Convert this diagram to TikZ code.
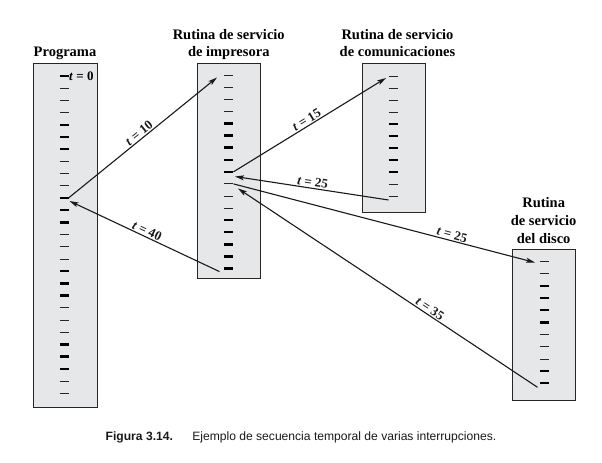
\documentclass[tikz,border=0pt]{standalone}
\usepackage{fontspec}
\setmainfont{Liberation Serif}
\newfontfamily\capfont{Liberation Sans}
\usetikzlibrary{arrows.meta}
\definecolor{boxgray}{RGB}{230,231,232}
\tikzset{
  boxst/.style={draw=black!85, fill=boxgray, line width=0.9bp, inner sep=0pt},
  ttl/.style={font=\bfseries\fontsize{14.5bp}{16.5bp}\selectfont, anchor=base, inner sep=0pt},
  thintick/.style={line width=0.8bp, black!85},
  thicktick/.style={line width=2.3bp, black},
  arr/.style={line width=1.1bp, black!90, -{Stealth[length=9bp,width=5bp,inset=2bp]}},
  lab/.style={font=\bfseries\fontsize{13bp}{14bp}\selectfont, inner sep=1bp},
}
\begin{document}
\begin{tikzpicture}[x=1bp,y=-1bp]
\useasboundingbox (0,0) rectangle (602,463);
% boxes
\node[boxst, minimum width=64bp, minimum height=344bp] (prog) at (65,235) {};
\node[boxst, minimum width=63.5bp, minimum height=215bp] (imp) at (228.75,170.5) {};
\node[boxst, minimum width=62.5bp, minimum height=149.5bp] (com) at (393.75,138) {};
\node[boxst, minimum width=62.7bp, minimum height=150.7bp] (dsk) at (543.65,324.65) {};
% titles
\node[ttl] (tp) at (65,56.5) {Programa};
\node[ttl] (ti1) at (228.75,40) {Rutina de servicio};
\node[ttl] (ti2) at (228.75,56.5) {de impresora};
\node[ttl] (tc1) at (397.5,40) {Rutina de servicio};
\node[ttl] (tc2) at (397.5,56.5) {de comunicaciones};
\node[ttl] (td1) at (543.65,207.5) {Rutina};
\node[ttl] (td2) at (543.65,225.5) {de servicio};
\node[ttl] (td3) at (543.65,243.5) {del disco};
% ticks: programa
\foreach \i in {1,...,27}{
  \pgfmathsetmacro\yy{76+(\i-1)*12.2}
  \coordinate (P\i) at (64,\yy);
}
\foreach \i in {1,5,6,7,11,12,13,17,18,19,23,24,25}{
  \draw[thicktick] ([xshift=-4.5bp]P\i) -- ([xshift=4.5bp]P\i);}
\foreach \i in {2,3,4,8,9,10,14,15,16,20,21,22,26,27}{
  \draw[thintick] ([xshift=-4.5bp]P\i) -- ([xshift=4.5bp]P\i);}
% ticks: impresora
\foreach \i in {1,...,17}{
  \pgfmathsetmacro\yy{75+(\i-1)*12.1}
  \coordinate (I\i) at (228.5,\yy);
}
\foreach \i in {5,6,7,8,9,13,14,15,16,17}{
  \draw[thicktick] ([xshift=-4.5bp]I\i) -- ([xshift=4.5bp]I\i);}
\foreach \i in {1,2,3,4,10,11,12}{
  \draw[thintick] ([xshift=-4.5bp]I\i) -- ([xshift=4.5bp]I\i);}
% ticks: comunicaciones
\foreach \i in {1,...,11}{
  \pgfmathsetmacro\yy{76+(\i-1)*12}
  \coordinate (C\i) at (393,\yy);
}
\foreach \i in {5,6,7,8,9}{
  \draw[thicktick] ([xshift=-4.5bp]C\i) -- ([xshift=4.5bp]C\i);}
\foreach \i in {1,2,3,4,10,11}{
  \draw[thintick] ([xshift=-4.5bp]C\i) -- ([xshift=4.5bp]C\i);}
% ticks: disco
\foreach \i in {1,...,11}{
  \pgfmathsetmacro\yy{261.7+(\i-1)*12.16}
  \coordinate (D\i) at (544,\yy);
}
\foreach \i in {3,4,5,6,10,11}{
  \draw[thicktick] ([xshift=-4.5bp]D\i) -- ([xshift=4.5bp]D\i);}
\foreach \i in {1,2,7,8,9}{
  \draw[thintick] ([xshift=-4.5bp]D\i) -- ([xshift=4.5bp]D\i);}
% t = 0
\node[lab, anchor=west, inner sep=0.5bp] (t0) at ([xshift=4.5bp]P1) {\textit{t} = 0};
% arrows
\draw[arr] ([xshift=4.5bp]P11) -- node[lab, above, sloped] {\textit{t} = 10} ([xshift=-11.5bp,yshift=-2.5bp]I1);
\draw[arr] ([xshift=5bp]I9) -- node[lab, above, sloped] {\textit{t} = 15} ([xshift=-7bp,yshift=-2bp]C1);
\draw[arr] ([xshift=-4.5bp,yshift=-4bp]C11) -- node[lab, above, sloped] {\textit{t} = 25} ([xshift=6.5bp,yshift=-4.7bp]I9);
\draw[arr] ([xshift=5bp]I10) -- node[lab, above, sloped, pos=0.72] {\textit{t} = 25} ([xshift=-9bp,yshift=-0.8bp]D1);
\draw[arr] ([xshift=-6.5bp,yshift=-4bp]D11) -- node[lab, above, sloped, pos=0.37] {\textit{t} = 35} ([xshift=9.5bp,yshift=-4.6bp]I10);
\draw[arr] ([xshift=-9bp,yshift=-3bp]I17) -- node[lab, above, sloped] {\textit{t} = 40} ([xshift=5.5bp,yshift=-3bp]P11);
% caption
\node[font=\capfont\fontsize{12.1bp}{14bp}\selectfont, text=black!90, anchor=base] (cap) at (301,440) {\textbf{Figura 3.14.}\hspace{1.6em}Ejemplo de secuencia temporal de varias interrupciones.};
\end{tikzpicture}
\end{document}
